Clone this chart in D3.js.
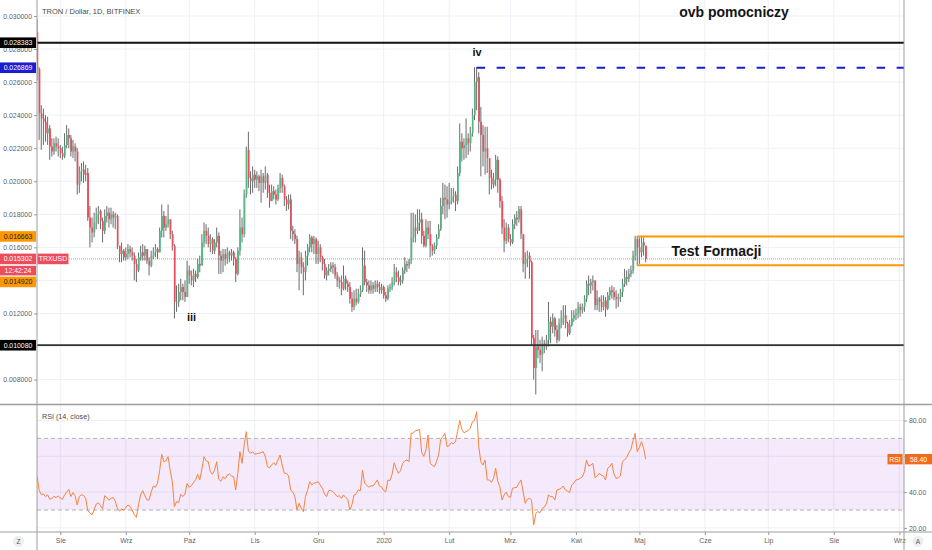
<!DOCTYPE html>
<html>
<head>
<meta charset="utf-8">
<script src="https://cdn.jsdelivr.net/npm/d3@7"></script>
<style>
  html, body { margin: 0; padding: 0; background: #fff; }
  svg { display: block; font-family: "Liberation Sans", Arial, sans-serif; }
</style>
</head>
<body>
<div id="chart"></div>
<script>
// TRXUSD daily candles, 2019-07-21 .. 2020-05-04
const startDate = Date.UTC(2019, 6, 21);
const firstOpen = 0.0290;
const closes = [
  0.0268, 0.0241, 0.0238, 0.0236, 0.0229, 0.0232, 0.0221, 0.0218, 0.0223, 0.0221,
  0.0220, 0.0217, 0.0215, 0.0222, 0.0228, 0.0226, 0.0218, 0.0221, 0.0218, 0.0198,
  0.0206, 0.0207, 0.0204, 0.0205, 0.0178, 0.0172, 0.0169, 0.0175, 0.0180, 0.0182,
  0.0176, 0.0170, 0.0179, 0.0181, 0.0177, 0.0180, 0.0178, 0.0179, 0.0161, 0.0156,
  0.0158, 0.0154, 0.0156, 0.0159, 0.0157, 0.0155, 0.0150, 0.0146, 0.0154, 0.0157,
  0.0155, 0.0159, 0.0152, 0.0149, 0.0155, 0.0157, 0.0159, 0.0157, 0.0170, 0.0179,
  0.0172, 0.0174, 0.0177, 0.0168, 0.0161, 0.0127, 0.0127, 0.0133, 0.0136, 0.0133,
  0.0130, 0.0146, 0.0143, 0.0140, 0.0144, 0.0142, 0.0150, 0.0149, 0.0163, 0.0170,
  0.0167, 0.0162, 0.0165, 0.0158, 0.0163, 0.0167, 0.0155, 0.0152, 0.0156, 0.0153,
  0.0157, 0.0155, 0.0157, 0.0153, 0.0144, 0.0158, 0.0172, 0.0168, 0.0192, 0.0219,
  0.0202, 0.0200, 0.0204, 0.0201, 0.0203, 0.0199, 0.0203, 0.0199, 0.0204, 0.0193,
  0.0188, 0.0194, 0.0192, 0.0189, 0.0196, 0.0202, 0.0197, 0.0189, 0.0186, 0.0189,
  0.0170, 0.0168, 0.0165, 0.0150, 0.0154, 0.0148, 0.0145, 0.0155, 0.0160, 0.0166,
  0.0162, 0.0165, 0.0156, 0.0160, 0.0154, 0.0150, 0.0143, 0.0146, 0.0147, 0.0149,
  0.0148, 0.0143, 0.0140, 0.0139, 0.0135, 0.0141, 0.0138, 0.0136, 0.0129, 0.0124,
  0.0129, 0.0127, 0.0132, 0.0134, 0.0149, 0.0139, 0.0137, 0.0134, 0.0137, 0.0135,
  0.0138, 0.0136, 0.0134, 0.0136, 0.0131, 0.0129, 0.0135, 0.0136, 0.0139, 0.0145,
  0.0142, 0.0139, 0.0140, 0.0146, 0.0150, 0.0149, 0.0152, 0.0166, 0.0172, 0.0170,
  0.0175, 0.0177, 0.0167, 0.0161, 0.0172, 0.0168, 0.0161, 0.0158, 0.0161, 0.0166,
  0.0171, 0.0185, 0.0190, 0.0189, 0.0186, 0.0188, 0.0191, 0.0192, 0.0188, 0.0205,
  0.0224, 0.0220, 0.0222, 0.0226, 0.0223, 0.0229, 0.0240, 0.0260, 0.0263, 0.0236,
  0.0228, 0.0218, 0.0220, 0.0214, 0.0202, 0.0198, 0.0201, 0.0213, 0.0201, 0.0188,
  0.0172, 0.0164, 0.0172, 0.0165, 0.0163, 0.0174, 0.0178, 0.0177, 0.0183, 0.0168,
  0.0150, 0.0153, 0.0155, 0.0151, 0.0105, 0.0087, 0.0100, 0.0098, 0.0095, 0.0102,
  0.0100, 0.0104, 0.0115, 0.0112, 0.0117, 0.0110, 0.0104, 0.0114, 0.0117, 0.0119,
  0.0114, 0.0108, 0.0113, 0.0117, 0.0119, 0.0120, 0.0124, 0.0122, 0.0124, 0.0129,
  0.0138, 0.0137, 0.0139, 0.0140, 0.0125, 0.0129, 0.0127, 0.0124, 0.0128, 0.0123,
  0.0131, 0.0134, 0.0133, 0.0130, 0.0129, 0.0130, 0.0133, 0.0138, 0.0142, 0.0141,
  0.0144, 0.0146, 0.0155, 0.0165, 0.0160, 0.0157, 0.0163, 0.0161, 0.015302
];
const highs = [
  0.0298, 0.0269, 0.0246, 0.0244, 0.0240, 0.0239, 0.0234, 0.0226, 0.0226, 0.0227,
  0.0226, 0.0222, 0.0221, 0.0229, 0.0234, 0.0232, 0.0228, 0.0225, 0.0223, 0.0220,
  0.0209, 0.0211, 0.0212, 0.0210, 0.0208, 0.0185, 0.0178, 0.0181, 0.0184, 0.0185,
  0.0183, 0.0178, 0.0183, 0.0185, 0.0184, 0.0184, 0.0182, 0.0181, 0.0180, 0.0161,
  0.0163, 0.0159, 0.0160, 0.0162, 0.0161, 0.0160, 0.0157, 0.0153, 0.0157, 0.0161,
  0.0162, 0.0161, 0.0159, 0.0154, 0.0158, 0.0160, 0.0162, 0.0160, 0.0172, 0.0186,
  0.0182, 0.0179, 0.0186, 0.0177, 0.0170, 0.0162, 0.0137, 0.0138, 0.0141, 0.0138,
  0.0140, 0.0152, 0.0149, 0.0146, 0.0147, 0.0146, 0.0153, 0.0155, 0.0168, 0.0175,
  0.0174, 0.0172, 0.0168, 0.0166, 0.0165, 0.0172, 0.0169, 0.0158, 0.0159, 0.0159,
  0.0160, 0.0158, 0.0159, 0.0158, 0.0154, 0.0160, 0.0183, 0.0178, 0.0195, 0.0221,
  0.0230, 0.0206, 0.0209, 0.0207, 0.0206, 0.0204, 0.0207, 0.0205, 0.0209, 0.0205,
  0.0198, 0.0198, 0.0197, 0.0195, 0.0198, 0.0205, 0.0204, 0.0198, 0.0191, 0.0192,
  0.0192, 0.0173, 0.0171, 0.0167, 0.0158, 0.0157, 0.0151, 0.0158, 0.0162, 0.0168,
  0.0167, 0.0167, 0.0166, 0.0164, 0.0162, 0.0155, 0.0153, 0.0148, 0.0150, 0.0151,
  0.0151, 0.0150, 0.0145, 0.0142, 0.0143, 0.0149, 0.0143, 0.0140, 0.0139, 0.0133,
  0.0134, 0.0135, 0.0135, 0.0137, 0.0160, 0.0158, 0.0141, 0.0140, 0.0140, 0.0139,
  0.0140, 0.0140, 0.0139, 0.0138, 0.0137, 0.0133, 0.0137, 0.0138, 0.0142, 0.0150,
  0.0148, 0.0146, 0.0143, 0.0148, 0.0154, 0.0152, 0.0153, 0.0181, 0.0181, 0.0180,
  0.0183, 0.0183, 0.0181, 0.0170, 0.0177, 0.0176, 0.0176, 0.0162, 0.0163, 0.0168,
  0.0174, 0.0190, 0.0199, 0.0198, 0.0197, 0.0199, 0.0196, 0.0196, 0.0194, 0.0209,
  0.0235, 0.0229, 0.0226, 0.0238, 0.0229, 0.0233, 0.0244, 0.0269, 0.0269, 0.0266,
  0.0245, 0.0234, 0.0233, 0.0233, 0.0209, 0.0207, 0.0205, 0.0216, 0.0215, 0.0202,
  0.0191, 0.0177, 0.0175, 0.0174, 0.0168, 0.0177, 0.0180, 0.0182, 0.0185, 0.0185,
  0.0168, 0.0157, 0.0158, 0.0157, 0.0152, 0.0107, 0.0110, 0.0110, 0.0104, 0.0106,
  0.0104, 0.0107, 0.0127, 0.0118, 0.0120, 0.0118, 0.0113, 0.0117, 0.0122, 0.0125,
  0.0125, 0.0115, 0.0116, 0.0122, 0.0122, 0.0123, 0.0127, 0.0126, 0.0126, 0.0131,
  0.0140, 0.0143, 0.0141, 0.0143, 0.0140, 0.0134, 0.0130, 0.0131, 0.0131, 0.0130,
  0.0133, 0.0136, 0.0137, 0.0136, 0.0134, 0.0132, 0.0135, 0.0141, 0.0147, 0.0146,
  0.0147, 0.0149, 0.0158, 0.0167, 0.0167, 0.0166, 0.0167, 0.0166, 0.0161
];
const lows = [
  0.0261, 0.0225, 0.0219, 0.0222, 0.0224, 0.0222, 0.0213, 0.0215, 0.0216, 0.0218,
  0.0215, 0.0214, 0.0213, 0.0214, 0.0220, 0.0220, 0.0215, 0.0214, 0.0212, 0.0192,
  0.0193, 0.0200, 0.0199, 0.0200, 0.0176, 0.0160, 0.0163, 0.0166, 0.0171, 0.0174,
  0.0171, 0.0163, 0.0168, 0.0175, 0.0172, 0.0174, 0.0172, 0.0171, 0.0159, 0.0151,
  0.0151, 0.0152, 0.0152, 0.0153, 0.0154, 0.0152, 0.0140, 0.0139, 0.0145, 0.0152,
  0.0152, 0.0152, 0.0150, 0.0143, 0.0148, 0.0153, 0.0154, 0.0153, 0.0157, 0.0166,
  0.0166, 0.0170, 0.0172, 0.0165, 0.0158, 0.0117, 0.0121, 0.0124, 0.0128, 0.0128,
  0.0127, 0.0130, 0.0138, 0.0137, 0.0136, 0.0139, 0.0141, 0.0145, 0.0149, 0.0160,
  0.0162, 0.0160, 0.0157, 0.0156, 0.0156, 0.0160, 0.0144, 0.0144, 0.0145, 0.0149,
  0.0150, 0.0151, 0.0152, 0.0149, 0.0139, 0.0143, 0.0155, 0.0163, 0.0166, 0.0190,
  0.0196, 0.0192, 0.0193, 0.0196, 0.0196, 0.0194, 0.0187, 0.0193, 0.0195, 0.0190,
  0.0184, 0.0188, 0.0189, 0.0186, 0.0188, 0.0193, 0.0193, 0.0185, 0.0182, 0.0183,
  0.0165, 0.0164, 0.0162, 0.0145, 0.0134, 0.0144, 0.0131, 0.0140, 0.0149, 0.0157,
  0.0157, 0.0156, 0.0150, 0.0150, 0.0151, 0.0146, 0.0141, 0.0140, 0.0143, 0.0145,
  0.0144, 0.0141, 0.0136, 0.0135, 0.0131, 0.0134, 0.0134, 0.0133, 0.0126, 0.0121,
  0.0122, 0.0125, 0.0126, 0.0130, 0.0133, 0.0137, 0.0133, 0.0132, 0.0132, 0.0132,
  0.0133, 0.0133, 0.0132, 0.0132, 0.0129, 0.0127, 0.0128, 0.0133, 0.0134, 0.0137,
  0.0139, 0.0137, 0.0137, 0.0138, 0.0144, 0.0145, 0.0147, 0.0150, 0.0163, 0.0163,
  0.0168, 0.0170, 0.0162, 0.0160, 0.0160, 0.0165, 0.0154, 0.0155, 0.0156, 0.0159,
  0.0165, 0.0170, 0.0180, 0.0177, 0.0178, 0.0183, 0.0186, 0.0187, 0.0182, 0.0186,
  0.0203, 0.0212, 0.0213, 0.0214, 0.0216, 0.0218, 0.0227, 0.0237, 0.0243, 0.0229,
  0.0203, 0.0209, 0.0204, 0.0205, 0.0192, 0.0195, 0.0196, 0.0197, 0.0193, 0.0184,
  0.0168, 0.0157, 0.0162, 0.0163, 0.0161, 0.0162, 0.0171, 0.0173, 0.0175, 0.0165,
  0.0145, 0.0141, 0.0148, 0.0141, 0.0101, 0.0080, 0.0071, 0.0093, 0.0090, 0.0085,
  0.0096, 0.0098, 0.0100, 0.0102, 0.0108, 0.0106, 0.0102, 0.0103, 0.0111, 0.0113,
  0.0111, 0.0106, 0.0107, 0.0112, 0.0115, 0.0116, 0.0117, 0.0118, 0.0120, 0.0121,
  0.0127, 0.0131, 0.0132, 0.0134, 0.0122, 0.0122, 0.0121, 0.0121, 0.0122, 0.0118,
  0.0122, 0.0128, 0.0129, 0.0128, 0.0123, 0.0124, 0.0127, 0.0130, 0.0136, 0.0137,
  0.0139, 0.0142, 0.0144, 0.0152, 0.0149, 0.0150, 0.0154, 0.0155, 0.0151
];
// RSI (14, close), one value per candle
const rsiValues = [
  49, 41, 38.5, 39, 37.5, 38.5, 36, 36.5, 37.5, 37,
  37.8, 36.7, 36, 38.4, 40, 41.5, 37.5, 39.7, 38, 32.8,
  37.5, 38.5, 38.2, 36.5, 29.6, 28.5, 27.2, 30, 33.3, 34,
  32.5, 30.7, 38, 37, 35.5, 36.5, 37, 35, 31, 29.4,
  30.5, 30, 31.5, 32.8, 32, 30, 27.5, 25.9, 33, 38.4,
  40.8, 38, 35.6, 35.6, 40, 43.4, 42.7, 44.9, 52, 61.1,
  57, 57.5, 59.8, 52, 45.8, 31.9, 34.7, 34.1, 38.8, 37.5,
  38.9, 44.9, 42.7, 43.5, 45.3, 46.8, 49.9, 46.8, 53, 59.8,
  57.5, 57, 51.4, 50, 52.3, 57, 47.1, 46, 48.6, 47.5,
  49.5, 50.1, 49, 48.6, 41.2, 50.5, 62.6, 56.1, 66.3, 73.8,
  63, 61.7, 62.5, 61.1, 61.5, 61.7, 62, 62.6, 60, 54.2,
  53.5, 55.1, 56.4, 55, 58, 60.7, 55, 50.5, 50.5, 49,
  41.2, 40, 37.5, 30, 33.7, 31, 29.1, 37.5, 41, 45.8,
  44, 45, 45.3, 45.8, 44, 42.1, 39, 37.5, 40.8, 41,
  40.2, 39, 37.5, 38, 36.5, 38.4, 37, 36, 30, 33,
  38.4, 39, 41.2, 40.8, 52.3, 44.9, 44, 42.7, 43.5, 43.4,
  45, 46.8, 43.4, 43, 41, 40.2, 46.8, 46.4, 50, 56.4,
  53, 50.5, 52, 56.1, 57.5, 57.9, 57, 72.8, 73, 74.3,
  74.5, 75, 62, 60, 63.5, 71.9, 56.1, 55, 54.2, 57,
  60.7, 69.5, 71, 72.8, 65.4, 66, 67.6, 67, 68.2, 74,
  80, 75, 73.2, 73.8, 74.5, 75.6, 79.3, 80, 84.9, 65.4,
  57, 55.1, 57.9, 46.8, 46.8, 45.5, 47.7, 53.3, 46, 43,
  35.6, 38.4, 40, 37.5, 37.1, 42.1, 42.5, 42.7, 45, 46.8,
  40.2, 33.7, 36, 36.5, 35.6, 21.6, 28.1, 29.1, 28.5, 30.9,
  31.5, 33.4, 38.4, 37.5, 37.5, 35.6, 41.2, 41.5, 42.1, 43.4,
  41.2, 40.5, 39.7, 44, 45, 46.8, 47, 47.7, 48.5, 51.4,
  57.9, 54.6, 55, 56.1, 48.2, 49, 50.5, 49.5, 49, 46.8,
  53.3, 54.2, 56.1, 50, 47.7, 48, 49, 57, 58, 59.4,
  62, 63.9, 68.7, 72.8, 62.6, 65, 68.2, 64.5, 58.4
];

const priceTicks = [0.030, 0.028, 0.026, 0.024, 0.022, 0.020, 0.018, 0.016, 0.014, 0.012, 0.010, 0.008];
const rsiTicks = [20, 40, 60, 80];
const rsiBand = [30, 70];
const monthTicks = ['2019-08-01', '2019-09-01', '2019-10-01', '2019-11-01', '2019-12-01', '2020-01-01',
  '2020-02-01', '2020-03-01', '2020-04-01', '2020-05-01', '2020-06-01', '2020-07-01', '2020-08-01', '2020-09-01'];
const monthLabels = ['Sie', 'Wrz', 'Paź', 'Lis', 'Gru', '2020', 'Lut', 'Mrz.', 'Kwi', 'Maj', 'Cze', 'Lip', 'Sie', 'Wrz'];

// drawn levels
const resistanceLevel = 0.028383;
const peakLevel = 0.026869;
const boxTop = 0.016663;
const boxBottom = 0.014920;
const supportLevel = 0.010080;
const lastPrice = 0.015302;
const lastRsi = 58.40;
const peakLineStart = '2020-02-14';
const boxStart = '2020-04-30';

const DAY = 86400000;
const W = 932, H = 550;
const plotLeft = 37, plotRight = 904;
const mainBottom = 404.5, rsiTop = 405, timeTop = 532;

const upColor = '#53b987', downColor = '#eb4d5c';
const gridColor = '#edf1f5', textColor = '#5d606b';

const svg = d3.select('#chart').append('svg')
  .attr('width', W)
  .attr('height', H);

const x = d3.scaleUtc()
  .domain([Date.UTC(2019, 7, 1), Date.UTC(2020, 8, 1)])
  .range([60.3, 899.3]);
const y = d3.scaleLinear().domain([0.008, 0.030]).range([379.6, 16]);
const yRsi = d3.scaleLinear().domain([20, 80]).range([527.9, 420.5]);

const tickDates = monthTicks.map(s => new Date(s + 'T00:00:00Z'));

const defs = svg.append('defs');
defs.append('clipPath').attr('id', 'clipMain')
  .append('rect').attr('x', plotLeft).attr('y', 0)
  .attr('width', plotRight - plotLeft).attr('height', mainBottom);
defs.append('clipPath').attr('id', 'clipRsi')
  .append('rect').attr('x', plotLeft).attr('y', rsiTop)
  .attr('width', plotRight - plotLeft).attr('height', timeTop - rsiTop);

// grid
const grid = svg.append('g');
grid.selectAll('.vgrid')
  .data(tickDates)
  .enter()
  .append('line')
  .attr('x1', d => x(d)).attr('x2', d => x(d))
  .attr('y1', 0).attr('y2', timeTop)
  .attr('stroke', gridColor);
grid.selectAll('.pgrid')
  .data(priceTicks)
  .enter()
  .append('line')
  .attr('x1', plotLeft).attr('x2', plotRight)
  .attr('y1', d => y(d)).attr('y2', d => y(d))
  .attr('stroke', gridColor);
grid.selectAll('.rgrid')
  .data(rsiTicks)
  .enter()
  .append('line')
  .attr('x1', plotLeft).attr('x2', plotRight)
  .attr('y1', d => yRsi(d)).attr('y2', d => yRsi(d))
  .attr('stroke', gridColor);

// RSI band
const rsiG = svg.append('g').attr('clip-path', 'url(#clipRsi)');
rsiG.append('rect')
  .attr('x', plotLeft).attr('width', plotRight - plotLeft)
  .attr('y', yRsi(rsiBand[1]))
  .attr('height', yRsi(rsiBand[0]) - yRsi(rsiBand[1]))
  .attr('fill', 'rgba(155, 39, 230, 0.1)');
rsiG.selectAll('.bandline')
  .data(rsiBand)
  .enter()
  .append('line')
  .attr('x1', plotLeft).attr('x2', plotRight)
  .attr('y1', d => yRsi(d)).attr('y2', d => yRsi(d))
  .attr('stroke', '#b2b2b2')
  .attr('stroke-dasharray', '4,3');

const rsiLine = d3.line()
  .x((d, i) => x(new Date(startDate + i * DAY)))
  .y(d => yRsi(d));
rsiG.append('path')
  .datum(rsiValues)
  .attr('d', rsiLine)
  .attr('fill', 'none')
  .attr('stroke', '#f7833f')
  .attr('stroke-width', 1);

// price pane
const mainG = svg.append('g').attr('clip-path', 'url(#clipMain)');

// current price dotted line
mainG.append('line')
  .attr('x1', plotLeft).attr('x2', plotRight)
  .attr('y1', y(lastPrice)).attr('y2', y(lastPrice))
  .attr('stroke', downColor)
  .attr('stroke-width', 0.7)
  .attr('stroke-dasharray', '1,1');

const candles = closes.map((c, i) => {
  const open = i === 0 ? firstOpen : closes[i - 1];
  return {
    date: new Date(startDate + i * DAY),
    open: open,
    close: c,
    high: Math.max(highs[i], open, c),
    low: Math.min(lows[i], open, c)
  };
});

mainG.selectAll('.wick')
  .data(candles)
  .enter()
  .append('line')
  .attr('x1', d => x(d.date)).attr('x2', d => x(d.date))
  .attr('y1', d => y(d.high)).attr('y2', d => y(d.low))
  .attr('stroke', '#5a5a5a')
  .attr('stroke-width', 0.9);

mainG.selectAll('.body')
  .data(candles)
  .enter()
  .append('rect')
  .attr('x', d => x(d.date) - 0.4)
  .attr('width', 1.6)
  .attr('y', d => y(Math.max(d.open, d.close)))
  .attr('height', d => Math.max(0.8, Math.abs(y(d.open) - y(d.close))))
  .attr('fill', d => d.close >= d.open ? upColor : downColor);

// horizontal levels
mainG.append('line')
  .attr('x1', plotLeft).attr('x2', plotRight)
  .attr('y1', y(resistanceLevel)).attr('y2', y(resistanceLevel))
  .attr('stroke', '#111').attr('stroke-width', 2);
mainG.append('line')
  .attr('x1', plotLeft).attr('x2', plotRight)
  .attr('y1', y(supportLevel)).attr('y2', y(supportLevel))
  .attr('stroke', '#333').attr('stroke-width', 1.8);
mainG.append('line')
  .attr('x1', x(new Date(peakLineStart + 'T00:00:00Z'))).attr('x2', plotRight)
  .attr('y1', y(peakLevel)).attr('y2', y(peakLevel))
  .attr('stroke', '#1c1cd0').attr('stroke-width', 2.2)
  .attr('stroke-dasharray', '8.5,11.5');
mainG.selectAll('.boxline')
  .data([boxTop, boxBottom])
  .enter()
  .append('line')
  .attr('x1', x(new Date(boxStart + 'T00:00:00Z'))).attr('x2', plotRight)
  .attr('y1', d => y(d)).attr('y2', d => y(d))
  .attr('stroke', '#ff9800').attr('stroke-width', 2);

// annotations
const bold = (txt, px, py, size, anchor) => svg.append('text')
  .attr('x', px).attr('y', py)
  .attr('font-size', size).attr('font-weight', 'bold')
  .attr('text-anchor', anchor || 'start')
  .attr('fill', '#131313')
  .text(txt);
bold('ovb pomocniczy', 734, 17, 14, 'middle');
bold('Test Formacji', 671.5, 256, 14);
bold('iv', 472.5, 56, 11);
bold('iii', 187, 321, 11);

svg.append('text')
  .attr('x', 42).attr('y', 14)
  .attr('font-size', 7.5).attr('fill', '#4a4a4a')
  .text('TRON / Dollar, 1D, BITFINEX');
svg.append('text')
  .attr('x', 42).attr('y', 418.5)
  .attr('font-size', 7.2).attr('fill', '#4a4a4a')
  .text('RSI (14, close)');

// axes
const priceAxis = svg.append('g')
  .attr('transform', `translate(${plotLeft}, 0)`)
  .call(d3.axisLeft(y).tickValues(priceTicks).tickFormat(d3.format('.6f')).tickSize(3).tickPadding(2));
const rsiAxis = svg.append('g')
  .attr('transform', `translate(${plotRight}, 0)`)
  .call(d3.axisRight(yRsi).tickValues(rsiTicks).tickFormat(d3.format('.2f')).tickSize(3).tickPadding(2));
const timeAxis = svg.append('g')
  .attr('transform', `translate(0, ${timeTop})`)
  .call(d3.axisBottom(x).tickValues(tickDates).tickFormat((d, i) => monthLabels[i]).tickSize(3).tickPadding(3));
[priceAxis, rsiAxis, timeAxis].forEach(a => {
  a.select('.domain').remove();
  a.selectAll('.tick line').attr('stroke', '#9a9a9a');
  a.selectAll('.tick text')
    .attr('fill', textColor)
    .attr('font-size', 6.9)
    .attr('font-family', '"Liberation Sans", Arial, sans-serif');
});

// frame lines
const frame = svg.append('g').attr('stroke', '#9d9d9d');
frame.append('line').attr('x1', 0).attr('x2', W).attr('y1', mainBottom).attr('y2', mainBottom).attr('stroke-width', 1.6);
frame.append('line').attr('x1', 0).attr('x2', W).attr('y1', timeTop).attr('y2', timeTop).attr('stroke-width', 1.2);
frame.append('line').attr('x1', plotLeft).attr('x2', plotLeft).attr('y1', 0).attr('y2', H);
frame.append('line').attr('x1', plotRight).attr('x2', plotRight).attr('y1', 0).attr('y2', H);

// price badges on the left scale
const badge = (bx, by, bw, bh, fill, txt, color) => {
  const g = svg.append('g');
  g.append('rect').attr('x', bx).attr('y', by).attr('width', bw).attr('height', bh).attr('fill', fill);
  g.append('text')
    .attr('x', bx + bw / 2).attr('y', by + bh / 2)
    .attr('dy', '0.35em')
    .attr('text-anchor', 'middle')
    .attr('font-size', 6.9)
    .attr('fill', color)
    .text(txt);
};
const fmt = d3.format('.6f');
const bh = 10.6;
badge(0, y(resistanceLevel) - bh / 2, plotLeft - 1, bh, '#000', fmt(resistanceLevel), '#fff');
badge(0, y(peakLevel) - bh / 2, plotLeft - 1, bh, '#1c1cd0', fmt(peakLevel), '#fff');
badge(0, y(boxTop) - bh / 2, plotLeft - 1, bh, '#ff9800', fmt(boxTop), '#222');
badge(0, y(lastPrice) - bh / 2, plotLeft - 1, bh, downColor, fmt(lastPrice), '#fff');
badge(plotLeft + 0.5, y(lastPrice) - bh / 2, 31, bh, downColor, 'TRXUSD', '#fff');
badge(0, y(lastPrice) + bh / 2 + 1.6, plotLeft - 1, bh - 1, downColor, '12:42:24', '#fff');
badge(0, y(lastPrice) + bh / 2 + 12.4, plotLeft - 1, bh, '#ff9800', fmt(boxBottom), '#222');
badge(0, y(supportLevel) - bh / 2, plotLeft - 1, bh, '#000', fmt(supportLevel), '#fff');

// RSI badges on the right scale
badge(887.5, yRsi(lastRsi) - 5.2, 15, 10.4, '#f26b1d', 'RSI', '#fff');
badge(905, yRsi(lastRsi) - 5.2, 27, 10.4, '#f26b1d', d3.format('.2f')(lastRsi), '#fff');

// scale buttons
[[18.5, 'Z'], [918, 'A']].forEach(([cx, t]) => {
  svg.append('circle').attr('cx', cx).attr('cy', 541.3).attr('r', 5.5).attr('fill', '#eceff2');
  svg.append('text').attr('x', cx).attr('y', 541.3).attr('dy', '0.35em')
    .attr('text-anchor', 'middle').attr('font-size', 6.5).attr('fill', '#555').text(t);
});
</script>
</body>
</html>
